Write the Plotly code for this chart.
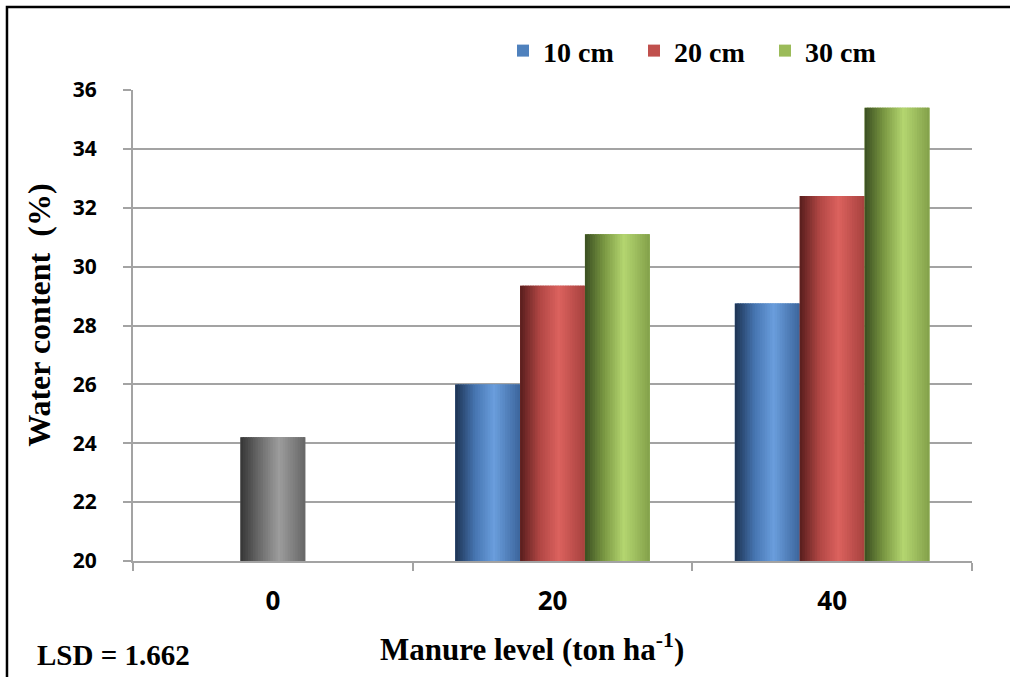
import plotly.graph_objects as go

# Manure levels (ton ha-1) on the x axis
manure_levels = ["0", "20", "40"]

# Water content (%) by sampling depth; the unamended control only exists at 0
control_values = [24.2, None, None]
depth_10cm = [None, 26.0, 28.75]
depth_20cm = [None, 29.35, 32.4]
depth_30cm = [None, 31.1, 35.4]

series_names = ["10 cm", "20 cm", "30 cm"]
x_title = "Manure level (ton ha<sup>-1</sup>)"
y_title = "Water content  (%)"
lsd_text = "LSD = 1.662"

# Shading stops across each bar: (position, colour) – dark left edge,
# highlight a little right of centre, slightly darker right edge
shades = {
    "blue": [(0.0, "#1d3352"), (0.3, "#4674b0"), (0.6, "#6a9edd"), (1.0, "#3c659c")],
    "red": [(0.0, "#571d1c"), (0.3, "#b04644"), (0.6, "#dc625e"), (1.0, "#a6413e")],
    "green": [(0.0, "#3a4e21"), (0.3, "#7b9943"), (0.6, "#b4d670"), (1.0, "#83a04a")],
    "gray": [(0.0, "#363636"), (0.3, "#6c6c6c"), (0.6, "#9d9d9d"), (1.0, "#666666")],
}
legend_colors = {"blue": "#4f81bd", "red": "#c0504d", "green": "#9bbb59"}

BAR_W = 0.232
N_SLICES = 26


def hex_to_rgb(h):
    h = h.lstrip("#")
    return tuple(int(h[i:i + 2], 16) for i in (0, 2, 4))


def shade_at(stops, t):
    for (t0, c0), (t1, c1) in zip(stops[:-1], stops[1:]):
        if t0 <= t <= t1:
            f = (t - t0) / (t1 - t0)
            a, b = hex_to_rgb(c0), hex_to_rgb(c1)
            r, g, bl = (round(a[k] + (b[k] - a[k]) * f) for k in range(3))
            return f"rgb({r},{g},{bl})"
    return stops[-1][1]


fig = go.Figure()


def add_shaded_bar(values, name, palette, offset, in_legend):
    # flat base bar carries the legend entry
    fig.add_trace(go.Bar(
        x=manure_levels, y=values, name=name,
        offset=offset, width=BAR_W,
        marker=dict(color=legend_colors.get(palette, "#808080"), line=dict(width=0)),
        showlegend=in_legend, hoverinfo="skip",
    ))
    # narrow vertical strips on top give the cylinder-like shading
    sw = BAR_W / N_SLICES
    for i in range(N_SLICES):
        t = (i + 0.5) / N_SLICES
        w = sw * 1.6 if i < N_SLICES - 1 else sw
        fig.add_trace(go.Bar(
            x=manure_levels, y=values, name=name,
            offset=offset + i * sw, width=w,
            marker=dict(color=shade_at(shades[palette], t), line=dict(width=0)),
            showlegend=False, hoverinfo="skip",
        ))


add_shaded_bar(control_values, "0", "gray", -BAR_W / 2, False)
add_shaded_bar(depth_10cm, series_names[0], "blue", -1.5 * BAR_W, True)
add_shaded_bar(depth_20cm, series_names[1], "red", -0.5 * BAR_W, True)
add_shaded_bar(depth_30cm, series_names[2], "green", 0.5 * BAR_W, True)

axis_gray = "#a3a3a3"
serif = "Liberation Serif, Times New Roman, serif"
sans = "Open Sans, Arial, sans-serif"
title_font = dict(family=serif, size=31, color="black", weight="bold")

fig.update_layout(
    width=1010, height=677,
    margin=dict(l=133, r=38, t=90, b=116),
    paper_bgcolor="white", plot_bgcolor="white",
    barmode="overlay",
    legend=dict(
        orientation="h", x=0.441, xanchor="left", y=1.083, yanchor="middle",
        font=dict(family=serif, size=28, color="black", weight="bold"),
        entrywidth=86, entrywidthmode="pixels",
        bgcolor="rgba(0,0,0,0)", traceorder="normal",
    ),
    xaxis=dict(
        type="category", categoryorder="array", categoryarray=manure_levels,
        range=[-0.5, 2.5],
        showline=True, linecolor=axis_gray, linewidth=2,
        ticks="outside", tickson="boundaries", ticklen=8, tickcolor=axis_gray, tickwidth=2,
        showgrid=False,
        tickfont=dict(family=sans, size=26, color="black", weight="bold"),
        ticklabelstandoff=16,
    ),
    yaxis=dict(
        range=[20, 36], dtick=2,
        showline=True, linecolor=axis_gray, linewidth=2,
        ticks="outside", ticklen=8, tickcolor=axis_gray, tickwidth=2,
        showgrid=True, gridcolor=axis_gray, gridwidth=2,
        zeroline=False,
        tickfont=dict(family=sans, size=21, color="black", weight="bold"),
        ticklabelstandoff=22,
    ),
    annotations=[
        dict(text=x_title, xref="paper", yref="paper",
             x=0.4756, y=-0.183, xanchor="center", yanchor="middle", showarrow=False,
             font=title_font),
        dict(text=y_title, xref="paper", yref="paper", textangle=-90,
             x=-0.113, y=0.521, xanchor="center", yanchor="middle", showarrow=False,
             font=dict(family=serif, size=32, color="black", weight="bold")),
        dict(text=lsd_text, xref="paper", yref="paper",
             x=-0.117, y=-0.2, xanchor="left", yanchor="middle", showarrow=False,
             font=dict(family=serif, size=29, color="black", weight="bold")),
    ],
    shapes=[dict(
        type="rect", xref="paper", yref="paper",
        x0=-0.1502, y0=-0.4, x1=1.3, y1=1.1762,
        line=dict(color="black", width=2.5), layer="above",
    )],
)

fig.write_html("out.html")
